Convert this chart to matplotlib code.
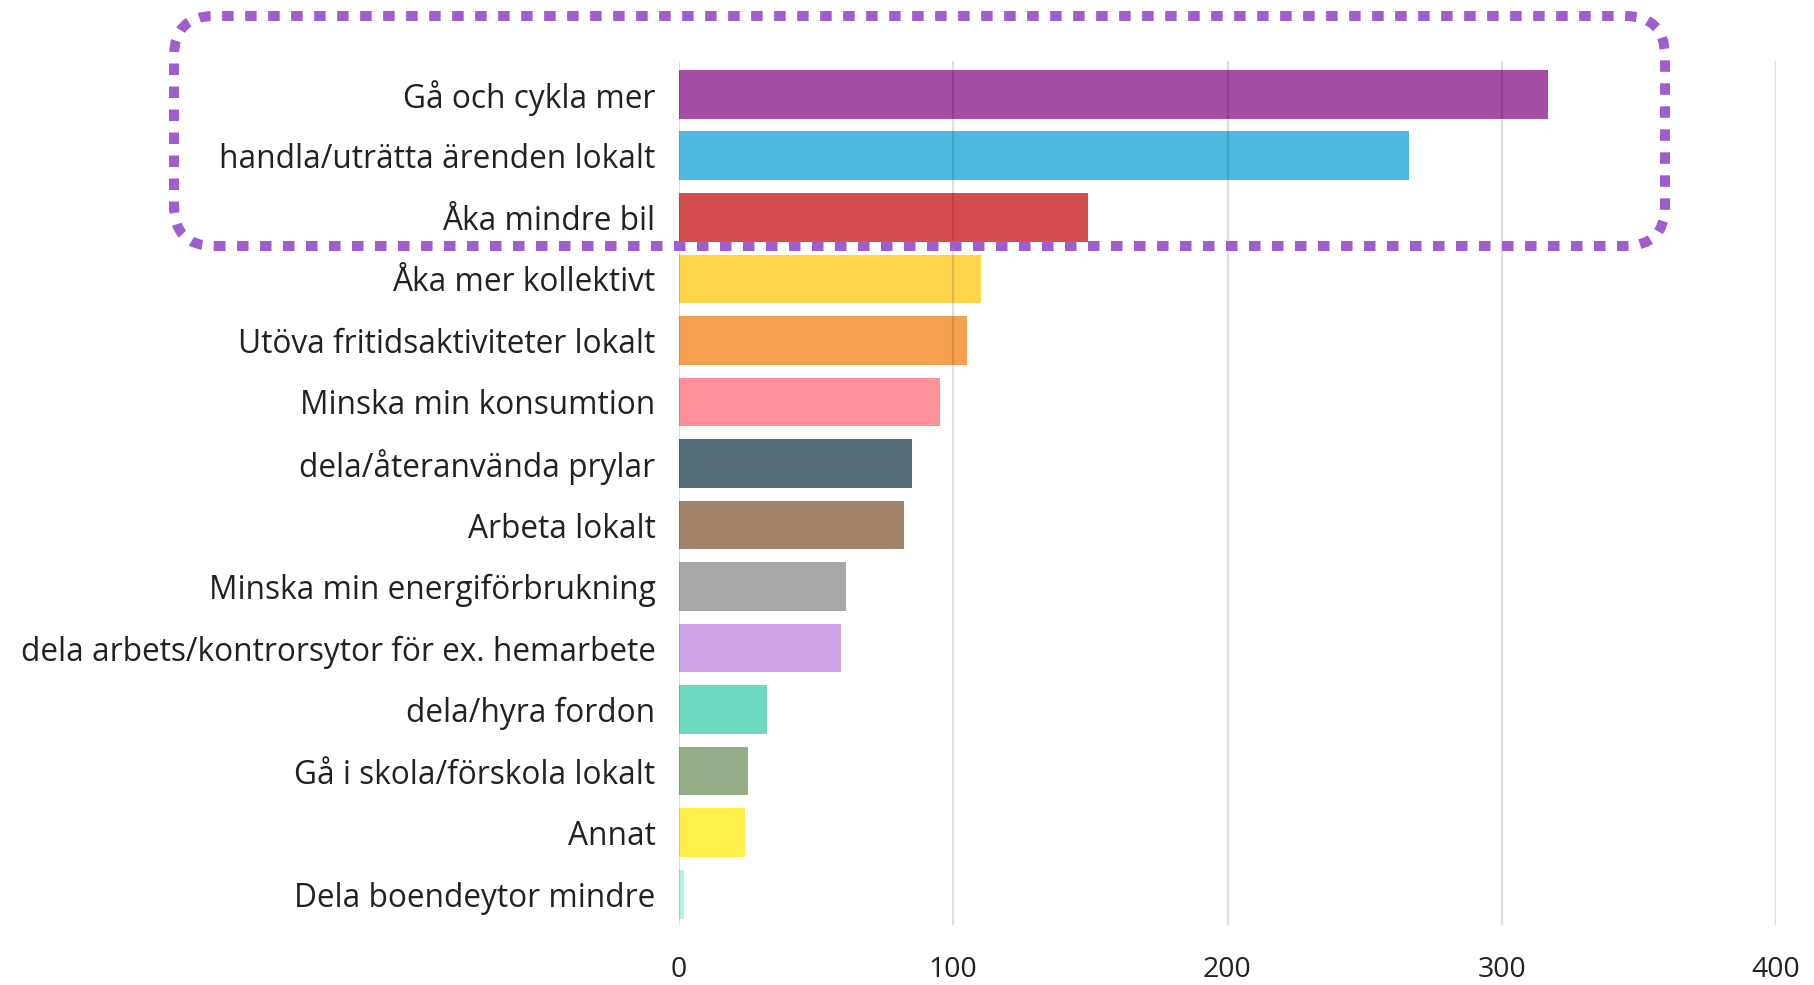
import matplotlib
matplotlib.use("Agg")
import matplotlib.pyplot as plt
from matplotlib.patches import FancyBboxPatch
from matplotlib.transforms import IdentityTransform

categories = [
    "Gå och cykla mer",
    "handla/uträtta ärenden lokalt",
    "Åka mindre bil",
    "Åka mer kollektivt",
    "Utöva fritidsaktiviteter lokalt",
    "Minska min konsumtion",
    "dela/återanvända prylar",
    "Arbeta lokalt",
    "Minska min energiförbrukning",
    "dela arbets/kontrorsytor för ex. hemarbete",
    "dela/hyra fordon",
    "Gå i skola/förskola lokalt",
    "Annat",
    "Dela boendeytor mindre",
]
values = [317, 266, 149, 110, 105, 95, 85, 82, 61, 59, 32, 25, 24, 2]
colors = ["#A44EA5", "#4EB9E0", "#D64D4D", "#FFD54C", "#F5A04F", "#FF8F99",
          "#546E77", "#A1836A", "#A8A8A8", "#CFA7E8", "#6DD9C1", "#95AE89",
          "#FFEF4A", "#B0F5E5"]
xticks = [0, 100, 200, 300, 400]

plt.rcParams['font.family'] = ['Open Sans', 'DejaVu Sans']

W, H = 1814, 985
fig = plt.figure(figsize=(W / 100, H / 100), dpi=100)
ax_left, ax_right, ax_top, ax_bottom = 679, 1776, 61, 925
ax = fig.add_axes([ax_left / W, 1 - ax_bottom / H, (ax_right - ax_left) / W,
                   (ax_bottom - ax_top) / H])

ypos = list(range(len(categories)))
ax.barh(ypos, values, height=0.79, color=colors, zorder=1)
ax.set_xlim(0, 400)
ax.set_ylim(13.5, -0.54)
ax.set_yticks(ypos)
ax.set_yticklabels(categories, fontsize=22.8, color="#222222")
ax.set_xticks(xticks)
ax.set_xticklabels([str(t) for t in xticks], fontsize=20.5, color="#222222")
ax.tick_params(axis="y", length=0, pad=17)
ax.tick_params(axis="x", length=0, pad=22)
for s in ax.spines.values():
    s.set_visible(False)
for t in xticks:
    ax.axvline(t, color="black", alpha=0.13, linewidth=1.6, zorder=3)

# dotted highlight box around top three categories (display pixel coords)
bx0, bx1, by_top, by_bot = 174, 1665, 16, 246
box = FancyBboxPatch((bx0, H - by_bot), bx1 - bx0, by_bot - by_top,
                     boxstyle="round,pad=0,rounding_size=40",
                     transform=IdentityTransform(), fill=False,
                     edgecolor="#9E5FCC", linewidth=7.2,
                     linestyle=(0, (1.15, 1.15)), capstyle="butt", zorder=5)
fig.patches.append(box)

fig.savefig("out.png", dpi=100, facecolor="white")
